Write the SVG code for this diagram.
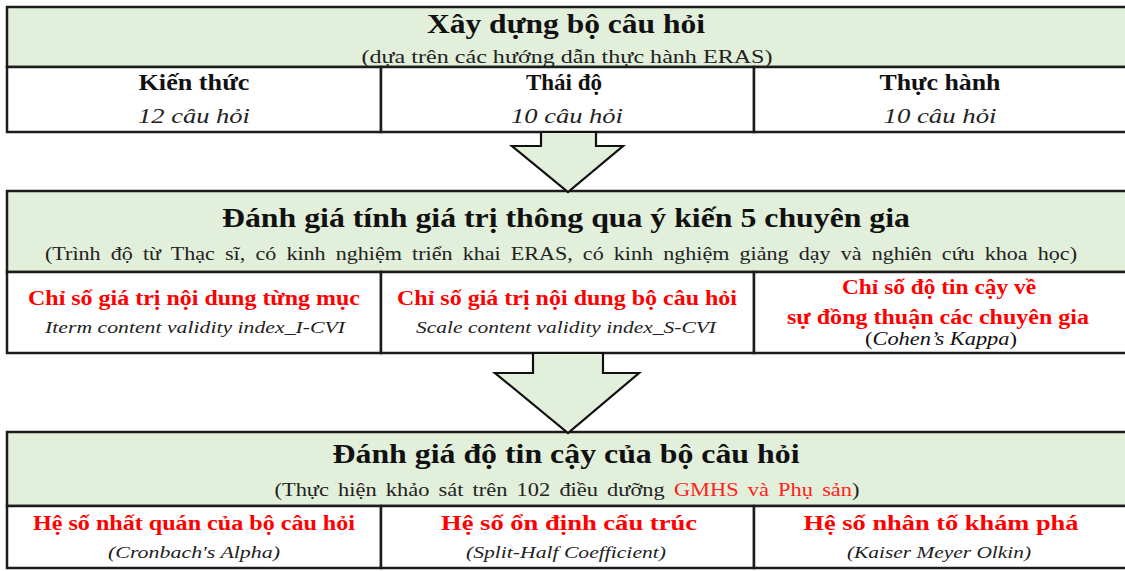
<svg xmlns="http://www.w3.org/2000/svg" width="1125" height="571" viewBox="0 0 1125 571" font-family="'Liberation Serif', 'Times New Roman', serif">
  <style>
    .hdr { fill: #E2EFDA; stroke: #1c1c1c; stroke-width: 2.5; }
    .cell { fill: #ffffff; stroke: #1c1c1c; stroke-width: 2.5; }
    .arrow { fill: #E2EFDA; stroke: #111111; stroke-width: 2.2; stroke-linejoin: miter; }
    text { font-family: 'Liberation Serif', 'Times New Roman', serif; text-anchor: middle; fill: #111111; }
    .title { font-size: 27px; font-weight: bold; }
    .sub { font-size: 19px; fill: #222222; }
    .lbl { font-size: 23px; font-weight: bold; }
    .cnt { font-size: 22px; font-style: italic; fill: #222222; }
    .red { font-size: 20px; font-weight: bold; fill: #ff0000; }
    .note { font-size: 17px; font-style: italic; fill: #222222; }
    .hl { fill: #ff2222; }
  </style>

  <!-- Stage 1: building the questionnaire -->
  <g id="stage-xay-dung">
    <rect class="hdr" x="7" y="7" width="1122" height="60"/>
    <text class="title" x="566" y="33" textLength="278" lengthAdjust="spacingAndGlyphs">Xây dựng bộ câu hỏi</text>
    <text class="sub" x="567" y="63" textLength="411" lengthAdjust="spacingAndGlyphs">(dựa trên các hướng dẫn thực hành ERAS)</text>
  </g>
  <g id="cell-kien-thuc">
    <rect class="cell" x="7" y="67" width="374" height="65"/>
    <text class="lbl" x="194" y="90" textLength="111" lengthAdjust="spacingAndGlyphs">Kiến thức</text>
    <text class="cnt" x="194" y="123" textLength="112" lengthAdjust="spacingAndGlyphs">12 câu hỏi</text>
  </g>
  <g id="cell-thai-do">
    <rect class="cell" x="381" y="67" width="373" height="65"/>
    <text class="lbl" x="564" y="90">Thái độ</text>
    <text class="cnt" x="567" y="123" textLength="112" lengthAdjust="spacingAndGlyphs">10 câu hỏi</text>
  </g>
  <g id="cell-thuc-hanh">
    <rect class="cell" x="754" y="67" width="375" height="65"/>
    <text class="lbl" x="940" y="90" textLength="121" lengthAdjust="spacingAndGlyphs">Thực hành</text>
    <text class="cnt" x="940" y="123" textLength="113" lengthAdjust="spacingAndGlyphs">10 câu hỏi</text>
  </g>

  <!-- Stage 2: content validity from expert review -->
  <g id="stage-tinh-gia-tri">
    <rect class="hdr" x="7" y="191" width="1122" height="81"/>
    <text class="title" x="566" y="227" textLength="688" lengthAdjust="spacingAndGlyphs">Đánh giá tính giá trị thông qua ý kiến 5 chuyên gia</text>
    <text class="sub" x="561" y="260" textLength="1032" lengthAdjust="spacingAndGlyphs" word-spacing="4">(Trình độ từ Thạc sĩ, có kinh nghiệm  triển khai ERAS, có kinh nghiệm  giảng  dạy và nghiên  cứu khoa học)</text>
  </g>
  <g id="cell-i-cvi">
    <rect class="cell" x="7" y="272" width="374" height="81"/>
    <text class="red" x="194" y="305" textLength="332" lengthAdjust="spacingAndGlyphs">Chỉ số giá trị nội dung từng mục</text>
    <text class="note" x="195" y="333" textLength="300" lengthAdjust="spacingAndGlyphs">Iterm content validity index_I-CVI</text>
  </g>
  <g id="cell-s-cvi">
    <rect class="cell" x="381" y="272" width="373" height="81"/>
    <text class="red" x="567" y="305" textLength="340" lengthAdjust="spacingAndGlyphs">Chỉ số giá trị nội dung bộ câu hỏi</text>
    <text class="note" x="566" y="333" textLength="300" lengthAdjust="spacingAndGlyphs">Scale content validity index_S-CVI</text>
  </g>
  <g id="cell-kappa">
    <rect class="cell" x="754" y="272" width="375" height="81"/>
    <text class="red" x="939" y="294" textLength="194" lengthAdjust="spacingAndGlyphs">Chỉ số độ tin cậy về</text>
    <text class="red" x="938" y="324" textLength="302" lengthAdjust="spacingAndGlyphs">sự đồng thuận các chuyên gia</text>
    <text x="941" y="345" font-size="18" fill="#222222" textLength="152" lengthAdjust="spacingAndGlyphs">(<tspan font-style="italic">Cohen’s Kappa</tspan>)</text>
  </g>

  <!-- Stage 3: reliability of the questionnaire -->
  <g id="stage-do-tin-cay">
    <rect class="hdr" x="7" y="432" width="1122" height="74"/>
    <text class="title" x="566" y="463" textLength="467" lengthAdjust="spacingAndGlyphs">Đánh giá độ tin cậy của bộ câu hỏi</text>
    <text class="sub" x="567" y="496" textLength="585" lengthAdjust="spacingAndGlyphs" word-spacing="3">(Thực hiện khảo sát trên 102 điều dưỡng <tspan class="hl">GMHS và Phụ sản</tspan>)</text>
  </g>
  <g id="cell-cronbach">
    <rect class="cell" x="7" y="506" width="374" height="62"/>
    <text class="red" x="194" y="530" textLength="322" lengthAdjust="spacingAndGlyphs">Hệ số nhất quán của bộ câu hỏi</text>
    <text class="note" x="194" y="558" textLength="172" lengthAdjust="spacingAndGlyphs">(Cronbach's Alpha)</text>
  </g>
  <g id="cell-split-half">
    <rect class="cell" x="381" y="506" width="373" height="62"/>
    <text class="red" x="569" y="530" font-size="22" textLength="256" lengthAdjust="spacingAndGlyphs">Hệ số ổn định cấu trúc</text>
    <text class="note" x="566" y="558" textLength="200" lengthAdjust="spacingAndGlyphs">(Split-Half Coefficient)</text>
  </g>
  <g id="cell-kmo">
    <rect class="cell" x="754" y="506" width="375" height="62"/>
    <text class="red" x="941" y="530" font-size="22" textLength="275" lengthAdjust="spacingAndGlyphs">Hệ số nhân tố khám phá</text>
    <text class="note" x="939" y="558" textLength="184" lengthAdjust="spacingAndGlyphs">(Kaiser Meyer Olkin)</text>
  </g>

  <!-- Block arrows between stages -->
  <g id="connectors">
    <polygon class="arrow" points="541,132 596,132 596,146 623,146 568,192 512,146 541,146"/>
    <polygon class="arrow" points="533,353 603,353 603,373 639,373 568,433 495,373 533,373"/>
  </g>
</svg>
